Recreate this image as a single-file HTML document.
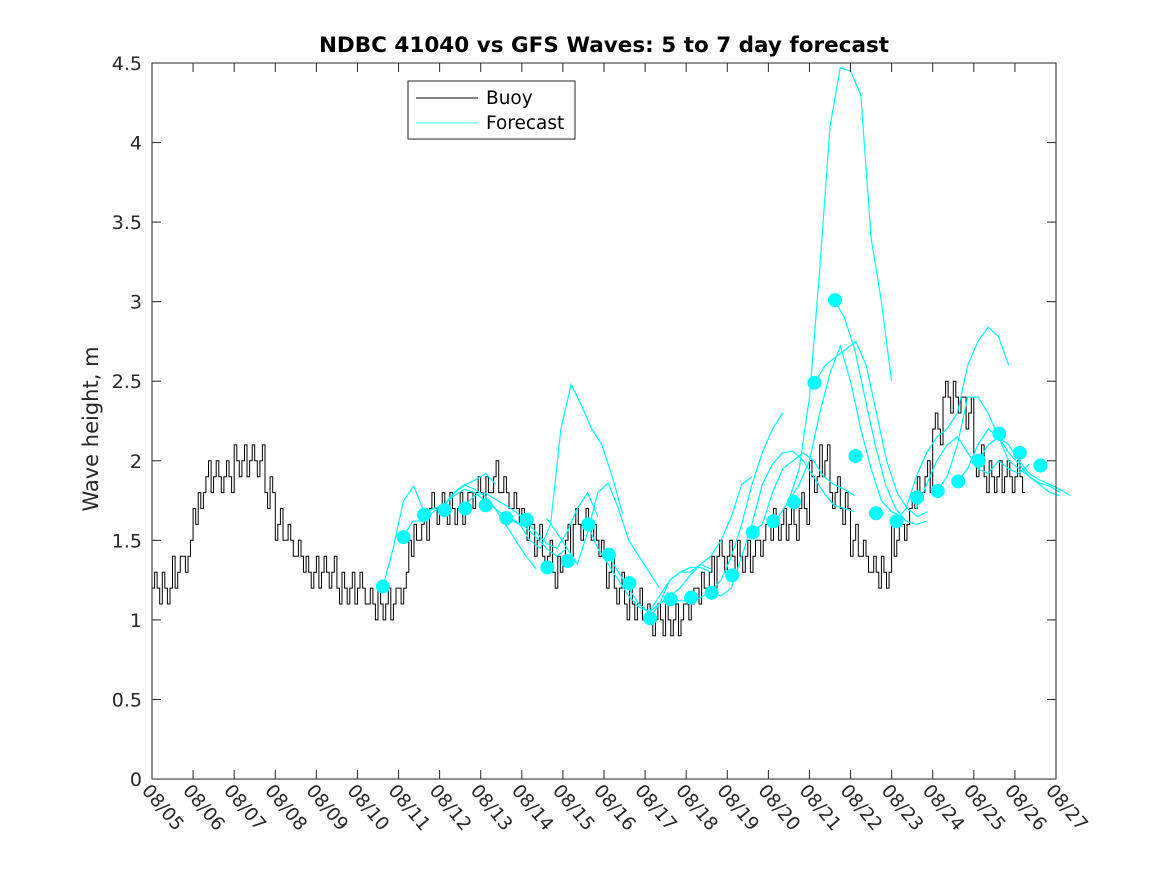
<!DOCTYPE html>
<html><head><meta charset="utf-8"><style>
body{margin:0;background:#fff}
svg{font-family:"DejaVu Sans","Liberation Sans",sans-serif}
</style></head><body>
<svg id="chart" width="1167" height="875" viewBox="0 0 1167 875">
<rect width="1167" height="875" fill="#fff"/>
<text x="604" y="52" text-anchor="middle" font-size="21.5" font-weight="bold">NDBC 41040 vs GFS Waves: 5 to 7 day forecast</text>
<text transform="translate(98,429) rotate(-90)" text-anchor="middle" font-size="21" fill="#262626">Wave height, m</text>
<g id="plot"></g>
<g id="axes"></g>
<g>
<rect x="408" y="81" width="167" height="58" fill="#fff" stroke="#262626" stroke-width="1"/>
<line x1="416" y1="98" x2="478" y2="98" stroke="#000"/>
<text x="486" y="104" font-size="18.5" fill="#000">Buoy</text>
<line x1="416" y1="123" x2="478" y2="123" stroke="#00ffff" stroke-width="0.8"/>
<text x="486" y="129" font-size="18.5" fill="#000">Forecast</text>
</g>
</svg>
<script>
const xTickLabels=["08/05","08/06","08/07","08/08","08/09","08/10","08/11","08/12","08/13","08/14","08/15","08/16","08/17","08/18","08/19","08/20","08/21","08/22","08/23","08/24","08/25","08/26","08/27"];
const yTicks=[0,0.5,1,1.5,2,2.5,3,3.5,4,4.5];
const buoyValues=[1.2,1.2,1.3,1.4, 1.7,1.9,1.9,1.9, 2.0,2.0,2.0,1.8, 1.6,1.5,1.4,1.3, 1.3,1.3,1.2,1.2, 1.2,1.1,1.1,1.1, 1.2,1.5,1.6,1.7, 1.7,1.7,1.7,1.8, 1.8,1.9,1.8,1.7, 1.6,1.5,1.4,1.3, 1.5,1.6,1.6,1.5, 1.3,1.2,1.1,1.1, 1.0,1.0,1.0,1.0, 1.1,1.2,1.3,1.4, 1.4,1.4,1.4,1.5, 1.6,1.6,1.6,1.7, 1.9,2.0,1.8,1.7, 1.5,1.4,1.3,1.3, 1.5,1.6,1.8,1.9, 2.2,2.4,2.4,2.3, 2.0,1.9,1.9,1.9, 1.9];
const buoyJitter=[0,0.1,0,-0.1,0.1,0,-0.1,0,0.1,-0.1,0,0.1,0,-0.1];
const dotStart=5.62;
const dotValues=[1.21,1.52,1.66,1.69,1.70,1.72,1.64,1.63,1.33,1.37,1.60,1.41,1.23,1.01,1.13,1.14,1.17,1.28,1.55,1.62,1.74,2.49,3.01,2.03,1.67,1.62,1.77,1.81,1.87,2.00,2.17,2.05,1.97];
const fcStarts=[5.62,6.1,6.6,7.6,8.7,9.6,10.6,11.1,12.1,12.6,13.6,14.6,15.0,16.13,16.6,15.5,18.1,18.6,19.1,19.6,20.1];
const fc0=[1.21,1.45,1.75,1.84,1.68,1.70,1.72,1.80,1.85,1.88,1.92,1.85];
const fc1=[1.52,1.62,1.62,1.68,1.72,1.80,1.85,1.82,1.78,1.70,1.60,1.50,1.40,1.32];
const fc2=[1.66,1.70,1.72,1.78,1.82,1.80,1.75,1.70,1.65,1.62,1.58,1.52,1.45,1.40,1.45];
const fc3=[1.72,1.78,1.80,1.76,1.72,1.68,1.62,1.55,1.48,1.45,1.55,1.70,1.80,1.65];
const fc4=[1.63,1.60,1.50,1.45,1.60,2.20,2.48,2.35,2.20,2.10,1.90,1.67];
const fc5=[1.64,1.55,1.45,1.35,1.55,1.80,1.86,1.70,1.50,1.40,1.30,1.20];
const fc6=[1.60,1.45,1.35,1.25,1.15,1.08,1.05,1.10,1.25,1.30,1.30,1.35,1.32];
const fc7=[1.41,1.30,1.20,1.10,1.05,1.15,1.25,1.30,1.33,1.33,1.30];
const fc8=[1.01,1.10,1.15,1.20,1.28,1.35,1.40,1.50,1.65,1.85,1.90];
const fc9=[1.13,1.12,1.12,1.14,1.18,1.25,1.40,1.60,1.85,2.05,2.20,2.30];
const fc10=[1.17,1.15,1.20,1.40,1.60,1.85,1.98,2.05,2.06,2.00,1.90,1.80,1.72,1.70,1.68];
const fc11=[1.55,1.60,1.80,1.95,2.00,2.05,2.00,1.90,1.85,1.82,1.78];
const fc12=[1.60,1.65,1.75,1.95,2.40,3.20,4.10,4.47,4.45,4.30,3.40,3.00,2.50];
const fc13=[2.49,2.60,2.65,2.70,2.75,2.60,2.30,2.00,1.80,1.70,1.65,1.68];
const fc14=[3.01,2.90,2.70,2.40,2.10,1.85,1.70,1.62,1.60,1.62];
const fc15=[1.75,1.85,2.00,2.30,2.55,2.72,2.50,2.20,1.95,1.75,1.68,1.65];
const fc16=[1.62,1.70,1.90,2.05,2.15,2.20,2.30,2.60,2.75,2.84,2.78,2.60];
const fc17=[1.70,1.85,2.00,2.10,2.15,2.05,1.95,1.92,2.00,1.95,1.92,1.98];
const fc18=[1.81,1.90,2.10,2.40,2.40,2.30,2.15,2.00,1.95,1.90,1.85,1.80,1.78];
const fc19=[1.87,1.95,2.10,2.20,2.15,2.05,1.98,1.90,1.86,1.84,1.80];
const fc20=[2.00,2.10,2.15,2.10,2.00,1.92,1.88,1.85,1.82,1.78];
const fcSeries=[fc0,fc1,fc2,fc3,fc4,fc5,fc6,fc7,fc8,fc9,fc10,fc11,fc12,fc13,fc14,fc15,fc16,fc17,fc18,fc19,fc20];

const L=152,R=1056,T=63,B=779,XMAX=22,YMAX=4.5;
const xs=d=>L+(R-L)*d/XMAX, ys=v=>B-(B-T)*v/YMAX;
const NS="http://www.w3.org/2000/svg";
const plot=document.getElementById('plot'), axes=document.getElementById('axes');
function mk(tag,attrs,parent){const e=document.createElementNS(NS,tag);for(const k in attrs)e.setAttribute(k,attrs[k]);parent.appendChild(e);return e;}

const SUB=4, sw=0.25/SUB;
let d="";
for(let i=0;i<buoyValues.length;i++){
  for(let h=0;h<SUB;h++){
    const t=i*0.25+h*sw;
    const j=buoyJitter[(i*SUB+h)%buoyJitter.length];
    const v=buoyValues[i]+j;
    d+=(d?"L":"M")+xs(t).toFixed(1)+","+ys(v).toFixed(1)+"H"+xs(t+sw).toFixed(1);
  }
}
const bl=mk('path',{d:d,fill:'none',stroke:'#000','stroke-width':1},plot);



fcSeries.forEach((s,k)=>{
  const pd=s.map((v,i)=>(i?"L":"M")+xs(fcStarts[k]+i*0.25).toFixed(1)+","+ys(v).toFixed(1)).join("");
  const p=mk('path',{d:pd,fill:'none',stroke:'#00ffff','stroke-width':1.2},plot);
  
  
});
dotValues.forEach((v,i)=>{
  const c=mk('circle',{cx:xs(dotStart+i*0.5),cy:ys(v),r:7,fill:'#00ffff'},plot);
  
  
});

const box=mk('rect',{x:L,y:T,width:R-L,height:B-T,fill:'none',stroke:'#262626','stroke-width':1},axes);


yTicks.forEach(v=>{
  const y=ys(v);
  mk('line',{x1:L,x2:L+9,y1:y,y2:y,stroke:'#262626'},axes);
  mk('line',{x1:R,x2:R-9,y1:y,y2:y,stroke:'#262626'},axes);
  const t=mk('text',{x:L-10,y:y+7,'text-anchor':'end','font-size':19,fill:'#262626'},axes);
  t.textContent=String(v);
  
  
});
xTickLabels.forEach((lab,i)=>{
  const x=xs(i);
  mk('line',{x1:x,x2:x,y1:B,y2:B-9,stroke:'#262626'},axes);
  mk('line',{x1:x,x2:x,y1:T,y2:T+9,stroke:'#262626'},axes);
  const t=mk('text',{transform:`translate(${x-11},${B+12}) rotate(50)`,'font-size':18.5,fill:'#262626'},axes);
  t.textContent=lab;
  
  
});
</script>
</body></html>
